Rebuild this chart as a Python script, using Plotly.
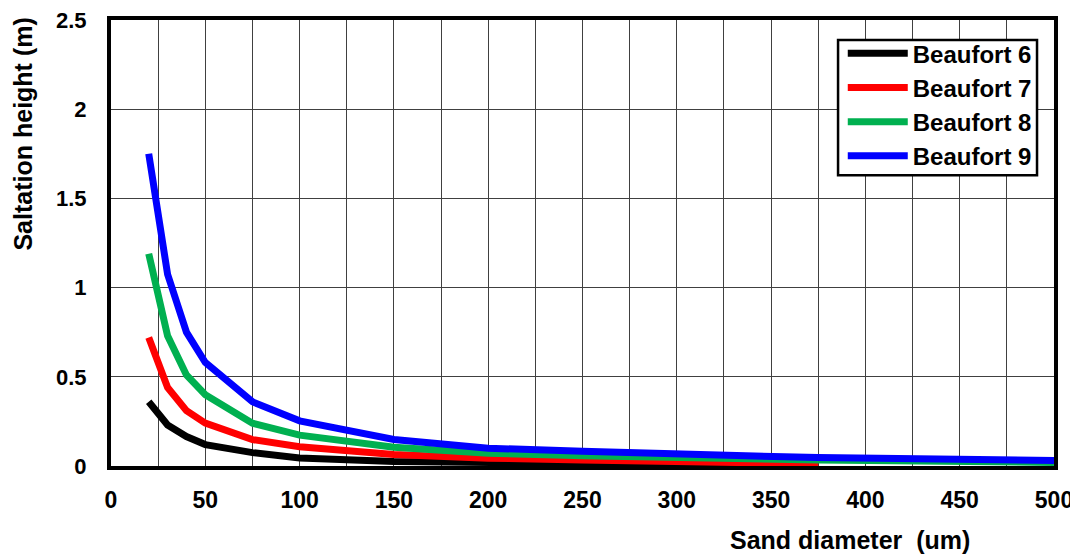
import plotly.graph_objects as go

diam_short = [20, 30, 40, 50, 75, 100, 150, 200, 250, 300, 375]
diam_long = [20, 30, 40, 50, 75, 100, 150, 200, 250, 300, 375, 500]

beaufort6 = [0.36, 0.23, 0.165, 0.12, 0.075, 0.045, 0.025, 0.018, 0.013, 0.009, 0.004]
beaufort7 = [0.72, 0.44, 0.31, 0.24, 0.148, 0.108, 0.065, 0.044, 0.034, 0.026, 0.012]
beaufort8 = [1.19, 0.73, 0.51, 0.40, 0.24, 0.173, 0.105, 0.072, 0.058, 0.047, 0.033, 0.02]
beaufort9 = [1.75, 1.075, 0.75, 0.58, 0.36, 0.253, 0.149, 0.10, 0.082, 0.066, 0.047, 0.031]

series = [
    ("Beaufort 6", diam_short, beaufort6, "#000000"),
    ("Beaufort 7", diam_short, beaufort7, "#FF0000"),
    ("Beaufort 8", diam_long, beaufort8, "#00B050"),
    ("Beaufort 9", diam_long, beaufort9, "#0000FF"),
]

font_family = "Liberation Sans, Arial, sans-serif"

fig = go.Figure()
for name, xs, ys, color in series:
    fig.add_trace(go.Scatter(
        x=xs, y=ys, mode="lines", name=name,
        line=dict(color=color, width=7),
    ))

# legend frame (white box with black border)
fig.add_shape(
    type="rect", xref="paper", yref="paper",
    x0=0.771, x1=0.982, y0=0.652, y1=0.955,
    line=dict(color="black", width=2.5), fillcolor="white", layer="above",
)

fig.update_layout(
    width=1070, height=546,
    margin=dict(l=103, r=24, t=12, b=88, autoexpand=False),
    plot_bgcolor="white", paper_bgcolor="white",
    showlegend=True,
    legend=dict(
        x=0.776, y=0.975, xanchor="left", yanchor="top",
        bgcolor="rgba(0,0,0,0)", borderwidth=0,
        font=dict(family=font_family, size=24, color="black", weight="bold"),
        traceorder="normal", tracegroupgap=0, itemwidth=60,
    ),
    xaxis=dict(
        range=[0, 500], dtick=50, tick0=0, automargin=False,
        ticklabeloverflow="allow",
        showgrid=True, gridcolor="#404040", gridwidth=1.4,
        minor=dict(dtick=25, showgrid=True, gridcolor="#404040", gridwidth=1.4),
        showline=True, linecolor="black", linewidth=4, mirror=True,
        ticks="", zeroline=False, ticklabelstandoff=10,
        tickfont=dict(family=font_family, size=23, color="black", weight="bold"),
    ),
    yaxis=dict(
        range=[0, 2.5], dtick=0.5, tick0=0, automargin=False,
        ticklabeloverflow="allow",
        showgrid=True, gridcolor="#404040", gridwidth=1.4,
        showline=True, linecolor="black", linewidth=4, mirror=True,
        ticks="", zeroline=False, ticklabelstandoff=16,
        tickfont=dict(family=font_family, size=22, color="black", weight="bold"),
    ),
    annotations=[
        dict(text="Saltation height (m)", textangle=-90, x=-0.0935, y=0.745,
             xanchor="center", yanchor="middle",
             xref="paper", yref="paper", showarrow=False,
             font=dict(family=font_family, size=25, color="black", weight="bold")),
        dict(text="Sand diameter  (um)", x=0.784, y=-0.166,
             xanchor="center", yanchor="middle",
             xref="paper", yref="paper", showarrow=False,
             font=dict(family=font_family, size=25, color="black", weight="bold")),
    ],
)

fig.write_html("out.html")
